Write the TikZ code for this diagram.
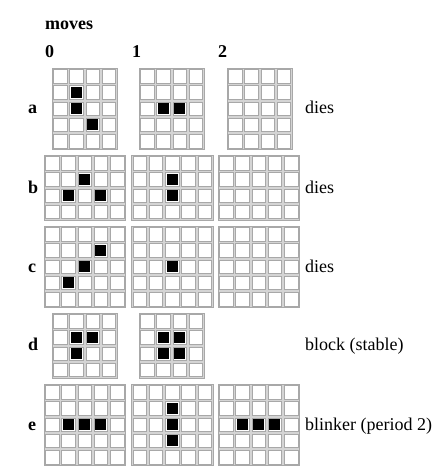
\documentclass[tikz,border=0pt]{standalone}
\usepackage{fontspec}
\setmainfont{Liberation Serif}

\definecolor{gridgray}{HTML}{D4D4D4}
\definecolor{linegray}{HTML}{A8A8A8}

\def\cellsz{16.25}

% empty board: x, y (top left), columns, rows
\newcommand{\lifeboard}[4]{%
\filldraw[fill=gridgray,draw=linegray,line width=0.5pt] (#1,#2) rectangle ++(#3*\cellsz,#4*\cellsz);
\foreach \i in {1,...,#3}
\foreach \j in {1,...,#4}
{\filldraw[fill=white,draw=linegray,line width=0.6pt]
(#1+\i*\cellsz-\cellsz+1.3,#2+\j*\cellsz-\cellsz+1.3)
rectangle ++(\cellsz-2.6,\cellsz-2.6);}
}

% live cells on a board: x, y, list of column/row
\newcommand{\lifecells}[3]{%
\foreach \c/\r in {#3}
{\fill[black] (#1+\c*\cellsz+2.6,#2+\r*\cellsz+2.6)
rectangle ++(\cellsz-5.2,\cellsz-5.2);}
}

\begin{document}
\begin{tikzpicture}[
x=1pt,y=-1pt,
every node/.style={
inner sep=0pt,
anchor=base west,
font=\fontsize{18}{21}\selectfont
}
]
\useasboundingbox (0,0) rectangle (437,472);

\node (moves) at (45,29) {\textbf{moves}};

\node (g0) at (45,57) {\textbf{0}};
\node (g1) at (132,57) {\textbf{1}};
\node (g2) at (218,57) {\textbf{2}};

% row a
\node (a) at (28,113) {\textbf{a}};
\lifeboard{52}{68}{4}{5}
\lifecells{52}{68}{1/1,1/2,2/3}
\lifeboard{139}{68}{4}{5}
\lifecells{139}{68}{1/2,2/2}
\lifeboard{227}{68}{4}{5}
\node (adies) at (305,113) {dies};

% row b
\node (b) at (28,193) {\textbf{b}};
\lifeboard{44}{155}{5}{4}
\lifecells{44}{155}{2/1,1/2,3/2}
\lifeboard{131.5}{155}{5}{4}
\lifecells{131.5}{155}{2/1,2/2}
\lifeboard{218}{155}{5}{4}
\node (bdies) at (305,193) {dies};

% row c
\node (c) at (28,272) {\textbf{c}};
\lifeboard{44}{226}{5}{5}
\lifecells{44}{226}{3/1,2/2,1/3}
\lifeboard{131.5}{226}{5}{5}
\lifecells{131.5}{226}{2/2}
\lifeboard{218}{226}{5}{5}
\node (cdies) at (305,272) {dies};

% row d
\node (d) at (28,350) {\textbf{d}};
\lifeboard{52}{313}{4}{4}
\lifecells{52}{313}{1/1,2/1,1/2}
\lifeboard{139}{313}{4}{4}
\lifecells{139}{313}{1/1,2/1,1/2,2/2}
\node (dblock) at (305,350) {block (stable)};

% row e
\node (e) at (28,430) {\textbf{e}};
\lifeboard{44}{384}{5}{5}
\lifecells{44}{384}{1/2,2/2,3/2}
\lifeboard{131.5}{384}{5}{5}
\lifecells{131.5}{384}{2/1,2/2,2/3}
\lifeboard{218}{384}{5}{5}
\lifecells{218}{384}{1/2,2/2,3/2}
\node (eblinker) at (305,430) {blinker (period 2)};

\end{tikzpicture}
\end{document}
